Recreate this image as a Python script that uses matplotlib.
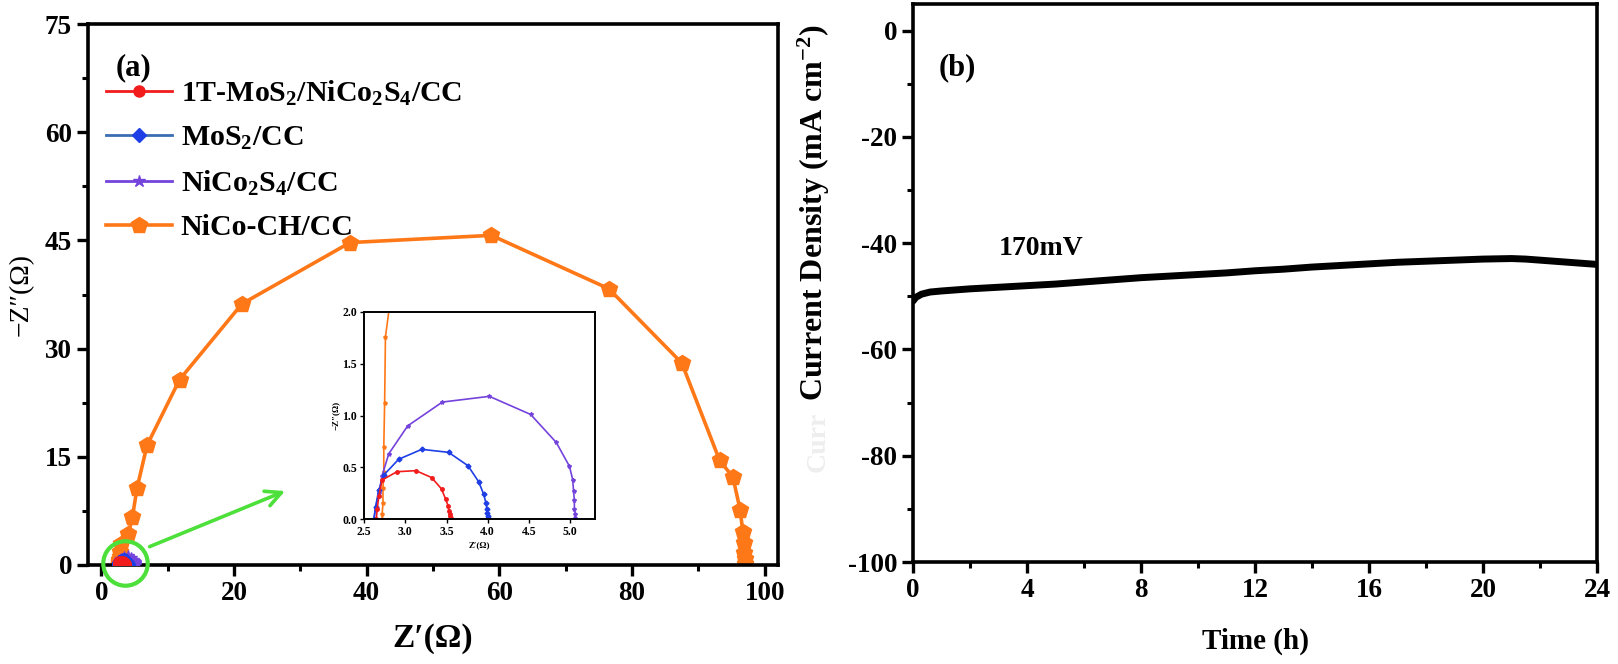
import numpy as np
import matplotlib
matplotlib.use("Agg")
import matplotlib.pyplot as plt
from matplotlib.ticker import MultipleLocator

plt.rcParams["font.family"] = ["Liberation Serif", "DejaVu Serif"]
plt.rcParams["font.weight"] = "bold"
plt.rcParams["mathtext.default"] = "regular"
plt.rcParams["axes.unicode_minus"] = False

# ---- panel (a): Nyquist data ----
orange_x = [2.72, 2.72, 2.73, 2.73, 2.74, 2.74, 2.75, 2.76, 2.95, 4.1, 4.7,
            5.4, 6.9, 11.8, 21.2, 37.5, 58.8, 76.5, 87.5, 93.2, 95.2, 96.3,
            96.7, 96.8, 96.9, 97.0, 97.0]
orange_y = [0.0, 0.05, 0.15, 0.3, 0.45, 0.7, 1.12, 1.76, 2.9, 4.3, 6.7,
            10.7, 16.6, 25.7, 36.2, 44.7, 45.7, 38.3, 28.0, 14.5, 12.2, 7.6,
            4.6, 3.0, 1.7, 0.8, 0.2]

red_x = [2.65, 2.66, 2.68, 2.72, 2.90, 3.13, 3.32, 3.44, 3.49, 3.52, 3.53,
         3.54, 3.54, 3.55]
red_y = [0.0, 0.10, 0.22, 0.377, 0.457, 0.467, 0.40, 0.29, 0.19, 0.126,
         0.08, 0.05, 0.025, 0.005]

blue_x = [2.62, 2.64, 2.68, 2.74, 2.92, 3.20, 3.525, 3.76, 3.89, 3.95, 3.98,
          3.99, 3.99, 4.00, 4.00]
blue_y = [0.0, 0.12, 0.28, 0.425, 0.577, 0.673, 0.644, 0.515, 0.36, 0.24,
          0.15, 0.094, 0.055, 0.025, 0.005]

purple_x = [2.62, 2.64, 2.68, 2.72, 2.80, 3.03, 3.45, 4.02, 4.52, 4.83, 4.99,
            5.03, 5.04, 5.05, 5.05, 5.06, 5.06]
purple_y = [0.0, 0.10, 0.25, 0.42, 0.63, 0.90, 1.13, 1.185, 1.01, 0.74, 0.51,
            0.38, 0.27, 0.18, 0.10, 0.05, 0.01]

labels_a = ["1T-MoS$_2$/NiCo$_2$S$_4$/CC", "MoS$_2$/CC", "NiCo$_2$S$_4$/CC",
            "NiCo-CH/CC"]

# ---- panel (b): stability data ----
time_h = [0, 0.1, 0.3, 0.6, 1.0, 1.5, 2, 3, 4, 5, 6, 7, 8, 9, 10, 11, 12, 13,
          14, 15, 16, 17, 18, 19, 20, 21, 21.5, 22, 23, 24]
current = [-50.9, -50.2, -49.6, -49.2, -49.0, -48.8, -48.6, -48.3, -48.0,
           -47.7, -47.3, -46.9, -46.5, -46.2, -45.9, -45.6, -45.2, -44.9,
           -44.5, -44.2, -43.9, -43.6, -43.4, -43.2, -43.0, -42.9, -43.0,
           -43.2, -43.6, -44.0]

RED = "#f21c1c"
BLUE_L = "#3b6db4"
BLUE_M = "#1f3fe6"
PURPLE = "#7443dc"
ORANGE = "#ff7818"
GREEN = "#4ee03a"

W, H = 1618, 664
fig = plt.figure(figsize=(W / 100, H / 100), dpi=100)


def px_axes(l, t, r, b):
    return fig.add_axes([l / W, 1 - b / H, (r - l) / W, (b - t) / H])


def style_axis(ax, lw=2.6, tick_size=19.5):
    for s in ax.spines.values():
        s.set_linewidth(lw)
    ax.tick_params(which="major", direction="out", length=8, width=2.4,
                   labelsize=tick_size)
    ax.tick_params(which="minor", direction="out", length=4.5, width=2.2)
    for lab in ax.get_xticklabels() + ax.get_yticklabels():
        lab.set_fontweight("bold")


# ================= panel (a) =================
ax1 = px_axes(88, 24, 778, 565)
ax1.plot(orange_x, orange_y, color=ORANGE, lw=2.6, marker="p", ms=12,
         label=labels_a[3], zorder=2)
ax1.plot(purple_x, purple_y, color=PURPLE, lw=2, marker="*", ms=9,
         label=labels_a[2], zorder=3)
ax1.plot(blue_x, blue_y, color=BLUE_L, lw=2, marker="D", ms=7, mfc=BLUE_M,
         mec=BLUE_M, label=labels_a[1], zorder=4)
ax1.plot(red_x, red_y, color=RED, lw=2, marker="o", ms=8, label=labels_a[0],
         zorder=5)
ax1.set_xlim(-2, 102)
ax1.set_ylim(0, 75)
ax1.xaxis.set_major_locator(MultipleLocator(20))
ax1.xaxis.set_minor_locator(MultipleLocator(10))
ax1.yaxis.set_major_locator(MultipleLocator(15))
ax1.yaxis.set_minor_locator(MultipleLocator(7.5))
ax1.tick_params(top=False, right=False, which="both")
style_axis(ax1)
ax1.set_xlabel("Z\u2032(\u03a9)", fontsize=24, fontweight="bold", labelpad=12)
ax1.set_ylabel("\u2212Z\u2033(\u03a9)", fontsize=20, fontweight="normal",
               labelpad=8)

handles, labs = ax1.get_legend_handles_labels()
order = [3, 2, 1, 0]
leg = ax1.legend([handles[i] for i in order], [labs[i] for i in order],
                 loc="upper left", bbox_to_anchor=(0.0, 0.932), frameon=False,
                 fontsize=21.5, handlelength=2.2, handletextpad=0.3,
                 labelspacing=0.56, borderaxespad=0.2)
for t in leg.get_texts():
    t.set_fontweight("bold")
ax1.text(0.04, 0.92, "(a)", transform=ax1.transAxes, fontsize=22,
         fontweight="bold", va="center")

# green highlight circle and arrow
ax1.plot([3.6], [0.3], marker="o", ms=32, mfc="none", mec=GREEN, mew=3,
         clip_on=False, zorder=6)
ax1.annotate("", xy=(28.1, 10.4), xytext=(6.9, 2.4),
             arrowprops=dict(arrowstyle="->", color=GREEN, lw=2.6,
                             mutation_scale=28), zorder=6)

# inset
axin = px_axes(364, 312, 595, 519)
axin.plot(orange_x, orange_y, color=ORANGE, lw=1.2, marker="p", ms=2.5)
axin.plot(purple_x, purple_y, color=PURPLE, lw=1.2, marker="*", ms=3)
axin.plot(blue_x, blue_y, color=BLUE_M, lw=1.2, marker="D", ms=2.5)
axin.plot(red_x, red_y, color=RED, lw=1.2, marker="o", ms=2.5)
axin.set_xlim(2.5, 5.3)
axin.set_ylim(0, 2.0)
axin.xaxis.set_major_locator(MultipleLocator(0.5))
axin.yaxis.set_major_locator(MultipleLocator(0.5))
for s in axin.spines.values():
    s.set_linewidth(1.4)
axin.tick_params(direction="out", length=3, width=1, labelsize=8.5, pad=2)
for lab in axin.get_xticklabels() + axin.get_yticklabels():
    lab.set_fontweight("bold")
axin.set_xlabel("Z\u2032(\u03a9)", fontsize=6.5, fontweight="bold", labelpad=2)
axin.set_ylabel("\u2212Z\u2033(\u03a9)", fontsize=6.5, fontweight="bold",
                labelpad=2)

# ================= panel (b) =================
ax2 = px_axes(913, 4, 1597, 562)
ax2.plot(time_h, current, color="black", lw=5, solid_capstyle="round")
ax2.set_xlim(0, 24)
ax2.set_ylim(-100, 5)
ax2.xaxis.set_major_locator(MultipleLocator(4))
ax2.xaxis.set_minor_locator(MultipleLocator(2))
ax2.yaxis.set_major_locator(MultipleLocator(20))
ax2.yaxis.set_minor_locator(MultipleLocator(10))
ax2.tick_params(top=False, right=False, which="both")
style_axis(ax2)
ax2.set_xlabel("Time (h)", fontsize=21, fontweight="bold", labelpad=18)
ax2.set_ylabel("Current Density (mA cm$^{-2}$)", fontsize=23,
               fontweight="bold")
ax2.yaxis.set_label_coords(-0.118, 0.626)
ax2.text(0.037, 0.885, "(b)", transform=ax2.transAxes, fontsize=22,
         fontweight="bold", va="center")
ax2.text(4.5, -41, "170mV", fontsize=20, fontweight="bold", ha="center",
         va="center")
# faint leftover label in the original figure
fig.text(818 / W, 1 - 442 / H, "Curr", rotation=90, fontsize=20,
         fontweight="bold", color="#eeeeee", ha="center", va="center")

fig.savefig("out.png", dpi=100)
